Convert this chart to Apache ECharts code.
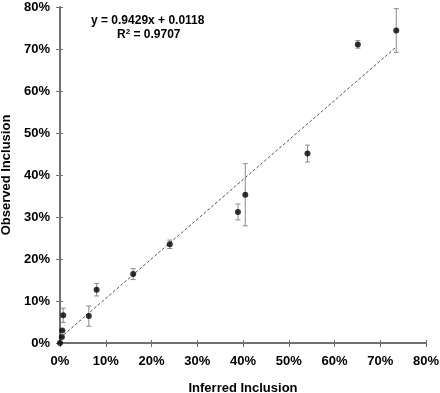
<!DOCTYPE html>
<html>
<head>
<meta charset="utf-8">
<script src="https://cdn.jsdelivr.net/npm/echarts@6/dist/echarts.min.js"></script>
<style>
  html, body { margin: 0; padding: 0; background: #fff; }
  #chart { width: 440px; height: 393px; }
</style>
</head>
<body>
<div id="chart"></div>
<script>
// values in percent
var inferred = [0, 0.4, 0.5, 0.7, 6.3, 8.0, 16.0, 24.0, 38.9, 40.5, 54.1, 65.1, 73.5];
var observed = [0, 1.4, 3.0, 6.6, 6.4, 12.7, 16.4, 23.5, 31.2, 35.3, 45.1, 71.1, 74.4];
var errors = [0, 0, 0, 1.7, 2.4, 1.5, 1.3, 1.0, 1.9, 7.4, 2.0, 0.9, 5.2];
var slope = 0.9429;
var intercept = 1.18;
var equationText = "y = 0.9429x + 0.0118";
var axisMax = 80;

var chart = echarts.init(document.getElementById("chart"));

var points = inferred.map(function(x, i) {
  return [x, observed[i]];
});
var bars = inferred.map(function(x, i) {
  return [x, observed[i] - errors[i], observed[i] + errors[i]];
});
var xMax = Math.max.apply(null, inferred);
var trend = [[0, intercept], [xMax, slope * xMax + intercept]];

var labelStyle = {
  color: "#000",
  fontWeight: "bold",
  fontSize: 13,
  fontFamily: "Liberation Sans, Arial, sans-serif"
};
var axisGray = "#707070";
var gridBox = { left: 60, right: 14, top: 7, bottom: 50, containLabel: false, outerBoundsMode: "none" };

var option = {
  animation: false,
  grid: [Object.assign({}, gridBox), Object.assign({}, gridBox)],
  graphic: [
    {
      type: "text",
      left: 91,
      top: 15,
      style: {
        text: equationText,
        font: "bold 12px Liberation Sans, Arial, sans-serif",
        fill: "#000"
      }
    },
    {
      type: "text",
      left: 117,
      top: 28,
      style: {
        rich: {
          b: { font: "bold 12px Liberation Sans, Arial, sans-serif", fill: "#000" },
          s: { font: "bold 8px Liberation Sans, Arial, sans-serif", fill: "#000", verticalAlign: "top", padding: [0, 0, 6, 0] }
        },
        text: "{b|R}{s|2}{b| = 0.9707}"
      }
    }
  ],
  xAxis: [
    {
      type: "value",
      min: 0,
      max: axisMax,
      interval: 10,
      name: "Inferred Inclusion",
      nameLocation: "middle",
      nameGap: 39,
      nameTextStyle: labelStyle,
      axisLine: { show: true, onZero: false, lineStyle: { color: axisGray, width: 2 } },
      axisTick: { show: true, length: 4, lineStyle: { color: axisGray } },
      axisLabel: Object.assign({ formatter: "{value}%", margin: 12 }, labelStyle),
      splitLine: { show: false }
    },
    {
      type: "value",
      gridIndex: 1,
      min: 0,
      max: axisMax,
      interval: 10,
      axisLine: { show: false },
      axisTick: { show: true, inside: true, length: 3, lineStyle: { color: axisGray } },
      axisLabel: { show: false },
      splitLine: { show: false }
    }
  ],
  yAxis: [
    {
      type: "value",
      min: 0,
      max: axisMax,
      interval: 10,
      name: "Observed Inclusion",
      nameLocation: "middle",
      nameGap: 44,
      nameTextStyle: labelStyle,
      axisLine: { show: true, onZero: false, lineStyle: { color: axisGray, width: 2 } },
      axisTick: { show: true, length: 4, lineStyle: { color: axisGray } },
      axisLabel: Object.assign({ formatter: "{value}%", margin: 10 }, labelStyle),
      splitLine: { show: false }
    },
    {
      type: "value",
      gridIndex: 1,
      min: 0,
      max: axisMax,
      interval: 10,
      axisLine: { show: false },
      axisTick: { show: true, inside: true, length: 3, lineStyle: { color: axisGray } },
      axisLabel: { show: false },
      splitLine: { show: false }
    }
  ],
  series: [
    {
      type: "line",
      data: trend,
      symbol: "none",
      lineStyle: { color: "#555", width: 1, type: [3, 2] },
      z: 1
    },
    {
      type: "custom",
      data: bars,
      z: 2,
      renderItem: function(params, api) {
        var x = api.value(0);
        var lo = api.coord([x, api.value(1)]);
        var hi = api.coord([x, api.value(2)]);
        var cap = 2.5;
        var style = { stroke: "#8a8a8a", lineWidth: 1 };
        return {
          type: "group",
          children: [
            { type: "line", shape: { x1: lo[0], y1: lo[1], x2: hi[0], y2: hi[1] }, style: style },
            { type: "line", shape: { x1: lo[0] - cap, y1: lo[1], x2: lo[0] + cap, y2: lo[1] }, style: style },
            { type: "line", shape: { x1: hi[0] - cap, y1: hi[1], x2: hi[0] + cap, y2: hi[1] }, style: style }
          ]
        };
      }
    },
    {
      type: "scatter",
      data: points,
      symbol: "circle",
      symbolSize: 6,
      itemStyle: { color: "#000" },
      z: 3
    }
  ]
};

chart.setOption(option);
</script>
</body>
</html>
